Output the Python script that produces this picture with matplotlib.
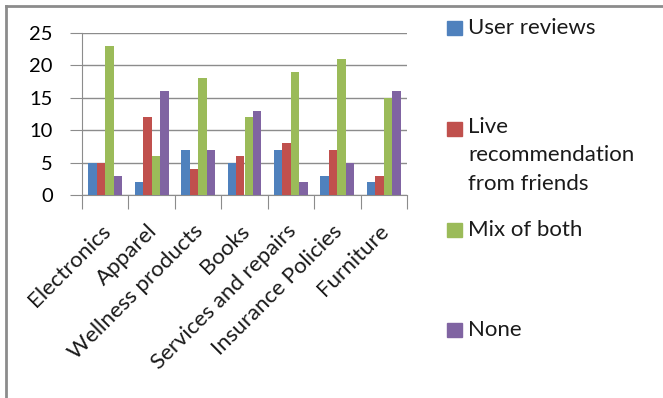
import matplotlib.pyplot as plt
import numpy as np
from matplotlib.lines import Line2D
from matplotlib.patches import Rectangle
from matplotlib.transforms import blended_transform_factory, ScaledTranslation

plt.rcParams['font.family'] = ['Lato', 'DejaVu Sans']

categories = ['Electronics', 'Apparel', 'Wellness products', 'Books',
              'Services and repairs', 'Insurance Policies', 'Furniture']
user_reviews = [5, 2, 7, 5, 7, 3, 2]
live_reco = [5, 12, 4, 6, 8, 7, 3]
mix_both = [23, 6, 18, 12, 19, 21, 15]
none = [3, 16, 7, 13, 2, 5, 16]
series_names = ['User reviews', 'Live\nrecommendation\nfrom friends', 'Mix of both', 'None']
colors = ['#4F81BD', '#C0504D', '#9BBB59', '#8064A2']

W, H = 663, 398
fig = plt.figure(figsize=(W / 100, H / 100), dpi=100)
ax = fig.add_axes([82 / W, 1 - 195 / H, 325 / W, 162 / H])

series = [user_reviews, live_reco, mix_both, none]
x = np.arange(len(categories))
w = 1 / 5.5
for i, vals in enumerate(series):
    ax.bar(x + (i - 1.5) * w, vals, w, color=colors[i], zorder=3)

ax.set_xlim(-0.5, len(categories) - 0.5)
ax.set_ylim(0, 25)
ax.set_yticks([0, 5, 10, 15, 20, 25])
ax.grid(axis='y', color='#8C8C8C', linewidth=1, zorder=0)
for s in ['top', 'right']:
    ax.spines[s].set_visible(False)
for s in ['left', 'bottom']:
    ax.spines[s].set_color('#8C8C8C')
ax.tick_params(axis='y', length=9, color='#8C8C8C', labelsize=14.5, pad=12)
ax.set_xticks(np.arange(len(categories) + 1) - 0.5)
ax.tick_params(axis='x', length=10, color='#8C8C8C', labelbottom=False)

# rotated category labels (Excel style)
trans = blended_transform_factory(ax.transData, ax.transAxes) + \
    ScaledTranslation(2 / 100, 0, fig.dpi_scale_trans)
for xi, cat in zip(x, categories):
    ax.text(xi, -33 / 162, cat, transform=trans, rotation=45, rotation_mode='anchor',
            ha='right', va='center', fontsize=16, color='#1a1a1a')

# legend
rows = [28, 129, 230, 330]
for c, name, yc in zip(colors, series_names, rows):
    fig.add_artist(Rectangle((447 / W, 1 - (yc + 7) / H), 15 / W, 14 / H,
                             transform=fig.transFigure, color=c))
    if '\n' in name:
        fig.text(468 / W, 1 - (yc - 12) / H, name, ha='left', va='top', fontsize=16,
                 linespacing=1.52, color='#1a1a1a')
    else:
        fig.text(468 / W, 1 - yc / H, name, ha='left', va='center', fontsize=16, color='#1a1a1a')

# outer chart border
fig.add_artist(Line2D([6 / W, 6 / W], [0, 1 - 6 / H], color='#8C8C8C', lw=2))
fig.add_artist(Line2D([6 / W, 1], [1 - 6 / H, 1 - 6 / H], color='#8C8C8C', lw=2))

fig.savefig('out.png', dpi=100)
